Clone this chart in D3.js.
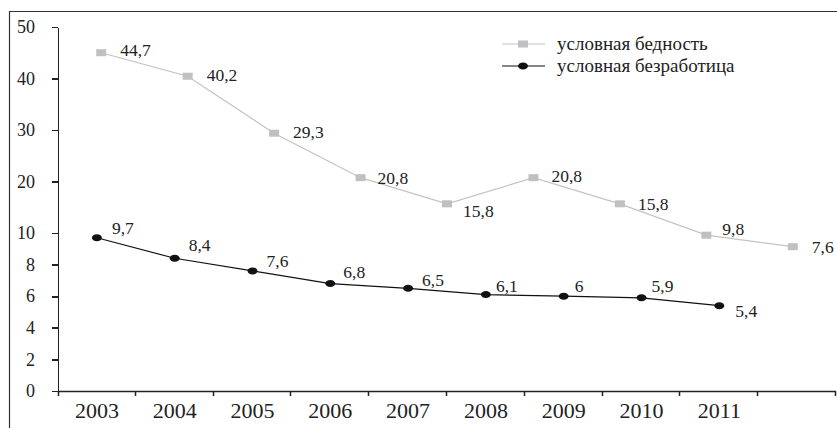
<!DOCTYPE html>
<html>
<head>
<meta charset="utf-8">
<script src="https://cdn.jsdelivr.net/npm/d3@7"></script>
<style>
  body { margin: 0; background: #fff; }
  svg text { font-family: "Liberation Serif", "DejaVu Serif", serif; fill: #222; }
</style>
</head>
<body>
<svg width="837" height="428"></svg>
<script>
// years on the bottom axis (last band is empty)
var years = ["2003", "2004", "2005", "2006", "2007", "2008", "2009", "2010", "2011", ""];
var dataYears = ["2003", "2004", "2005", "2006", "2007", "2008", "2009", "2010", "2011"];
var poverty = [44.7, 40.2, 29.3, 20.8, 15.8, 20.8, 15.8, 9.8, 7.6];
var unemployment = [9.7, 8.4, 7.6, 6.8, 6.5, 6.1, 6, 5.9, 5.4];
var yTicks = [0, 2, 4, 6, 8, 10, 20, 30, 40, 50];
var seriesNames = ["условная бедность", "условная безработица"];

var svg = d3.select("svg"),
    width = +svg.attr("width"),
    height = +svg.attr("height");

var plotLeft = 58, plotRight = 836, plotBottom = 391, plotTop = 27;
var axisColor = "#222";

var x = d3.scaleBand().domain(years).range([plotLeft, plotRight]);
var x2 = d3.scaleBand().domain(dataYears).range([plotLeft, plotRight]);

// broken axis: 0-10 stretched, 10-50 compressed
var y = d3.scaleLinear().domain([0, 10, 50]).range([plotBottom, 233, plotTop]);
// poverty sits on its own (hidden) scale
var y2 = d3.scaleLinear().domain([-20, 50]).range([plotBottom, 25]);

// frame
svg.append("path")
    .attr("d", "M9.5," + height + "V11.5H" + width)
    .attr("fill", "none")
    .attr("stroke", "#333")
    .attr("stroke-width", 1.2);

// y axis with d3
var yAxis = svg.append("g")
    .attr("class", "y-axis")
    .attr("transform", "translate(" + plotLeft + ",0)")
    .call(d3.axisLeft(y).tickValues(yTicks).tickSize(6).tickSizeOuter(0).tickPadding(17));
yAxis.attr("font-family", null).attr("font-size", null);
yAxis.select(".domain")
    .attr("stroke", axisColor)
    .attr("stroke-width", 1.8)
    .attr("shape-rendering", "crispEdges");
yAxis.selectAll(".tick line")
    .attr("stroke", axisColor)
    .attr("stroke-width", 1.8)
    .attr("shape-rendering", "crispEdges");
yAxis.selectAll(".tick text")
    .attr("fill", "#222")
    .style("font-size", "18px");

// x axis line + boundary ticks
var xPath = "M" + plotLeft + "," + (plotBottom + 0.5) + "H" + plotRight;
xPath += "M" + (plotLeft + 0.5) + "," + plotBottom + "V" + (plotBottom + 5);
years.forEach(function(d) {
    var bx = Math.round(x(d) + x.bandwidth()) - 0.5;
    xPath += "M" + bx + "," + plotBottom + "V" + (plotBottom + 5);
});
svg.append("path")
    .attr("d", xPath)
    .attr("fill", "none")
    .attr("stroke", axisColor)
    .attr("stroke-width", 1.5);

svg.selectAll(".xlbl")
    .data(years)
    .enter().append("text")
    .attr("x", function(d) { return x(d) + x.bandwidth() / 2; })
    .attr("y", 418)
    .attr("text-anchor", "middle")
    .style("font-size", "22px")
    .text(function(d) { return d; });

// poverty line
var povLine = d3.line()
    .x(function(d, i) { return x2(dataYears[i]) + x2.bandwidth() / 2; })
    .y(function(d) { return y2(d); });

svg.append("path")
    .datum(poverty)
    .attr("d", povLine)
    .attr("fill", "none")
    .attr("stroke", "#c2c3c5")
    .attr("stroke-width", 1.2);

svg.selectAll(".pov")
    .data(poverty)
    .enter().append("rect")
    .attr("x", function(d, i) { return x2(dataYears[i]) + x2.bandwidth() / 2 - 5; })
    .attr("y", function(d) { return y2(d) - 3.5; })
    .attr("width", 10).attr("height", 7)
    .attr("fill", "#bfc0c3");

var povOffset = [[19, -3], [19, -1], [19, -1], [17, 0], [16, 7], [18, -2], [18, 0], [16, -6], [19, 0]];
svg.selectAll(".povlbl")
    .data(poverty)
    .enter().append("text")
    .attr("x", function(d, i) { return x2(dataYears[i]) + x2.bandwidth() / 2 + povOffset[i][0]; })
    .attr("y", function(d, i) { return y2(d) + povOffset[i][1]; })
    .attr("dy", "0.35em")
    .style("font-size", "17.5px")
    .text(function(d) { return String(d).replace(".", ","); });

// unemployment line
var unLine = d3.line()
    .x(function(d, i) { return x(years[i]) + x.bandwidth() / 2; })
    .y(function(d) { return y(d); });

svg.append("path")
    .datum(unemployment)
    .attr("d", unLine)
    .attr("fill", "none")
    .attr("stroke", "#111")
    .attr("stroke-width", 1.2);

svg.selectAll(".un")
    .data(unemployment)
    .enter().append("ellipse")
    .attr("cx", function(d, i) { return x(years[i]) + x.bandwidth() / 2; })
    .attr("cy", function(d) { return y(d); })
    .attr("rx", 5).attr("ry", 3.5)
    .attr("fill", "#111");

var unOffset = [[15, -10], [14, -13], [14, -10], [13, -12], [14, -8], [10, -9], [11, -10], [10, -12], [16, 5]];
svg.selectAll(".unlbl")
    .data(unemployment)
    .enter().append("text")
    .attr("x", function(d, i) { return x(years[i]) + x.bandwidth() / 2 + unOffset[i][0]; })
    .attr("y", function(d, i) { return y(d) + unOffset[i][1]; })
    .attr("dy", "0.35em")
    .style("font-size", "17.5px")
    .text(function(d) { return String(d).replace(".", ","); });

// legend
var lg = svg.append("g").attr("transform", "translate(502,44)");
lg.append("line").attr("x1", 0).attr("x2", 43).attr("y1", 0).attr("y2", 0)
    .attr("stroke", "#c2c3c5").attr("stroke-width", 1.2);
lg.append("rect").attr("x", 16).attr("y", -3.5).attr("width", 10).attr("height", 7)
    .attr("fill", "#bfc0c3");
lg.append("line").attr("x1", 0).attr("x2", 43).attr("y1", 22).attr("y2", 22)
    .attr("stroke", "#111").attr("stroke-width", 1.2);
lg.append("ellipse").attr("cx", 21).attr("cy", 22).attr("rx", 5).attr("ry", 3.5)
    .attr("fill", "#111");
lg.selectAll("text")
    .data(seriesNames)
    .enter().append("text")
    .attr("x", 55)
    .attr("y", function(d, i) { return i * 22; })
    .attr("dy", "0.3em")
    .style("font-size", "19px")
    .text(function(d) { return d; });
</script>
</body>
</html>
